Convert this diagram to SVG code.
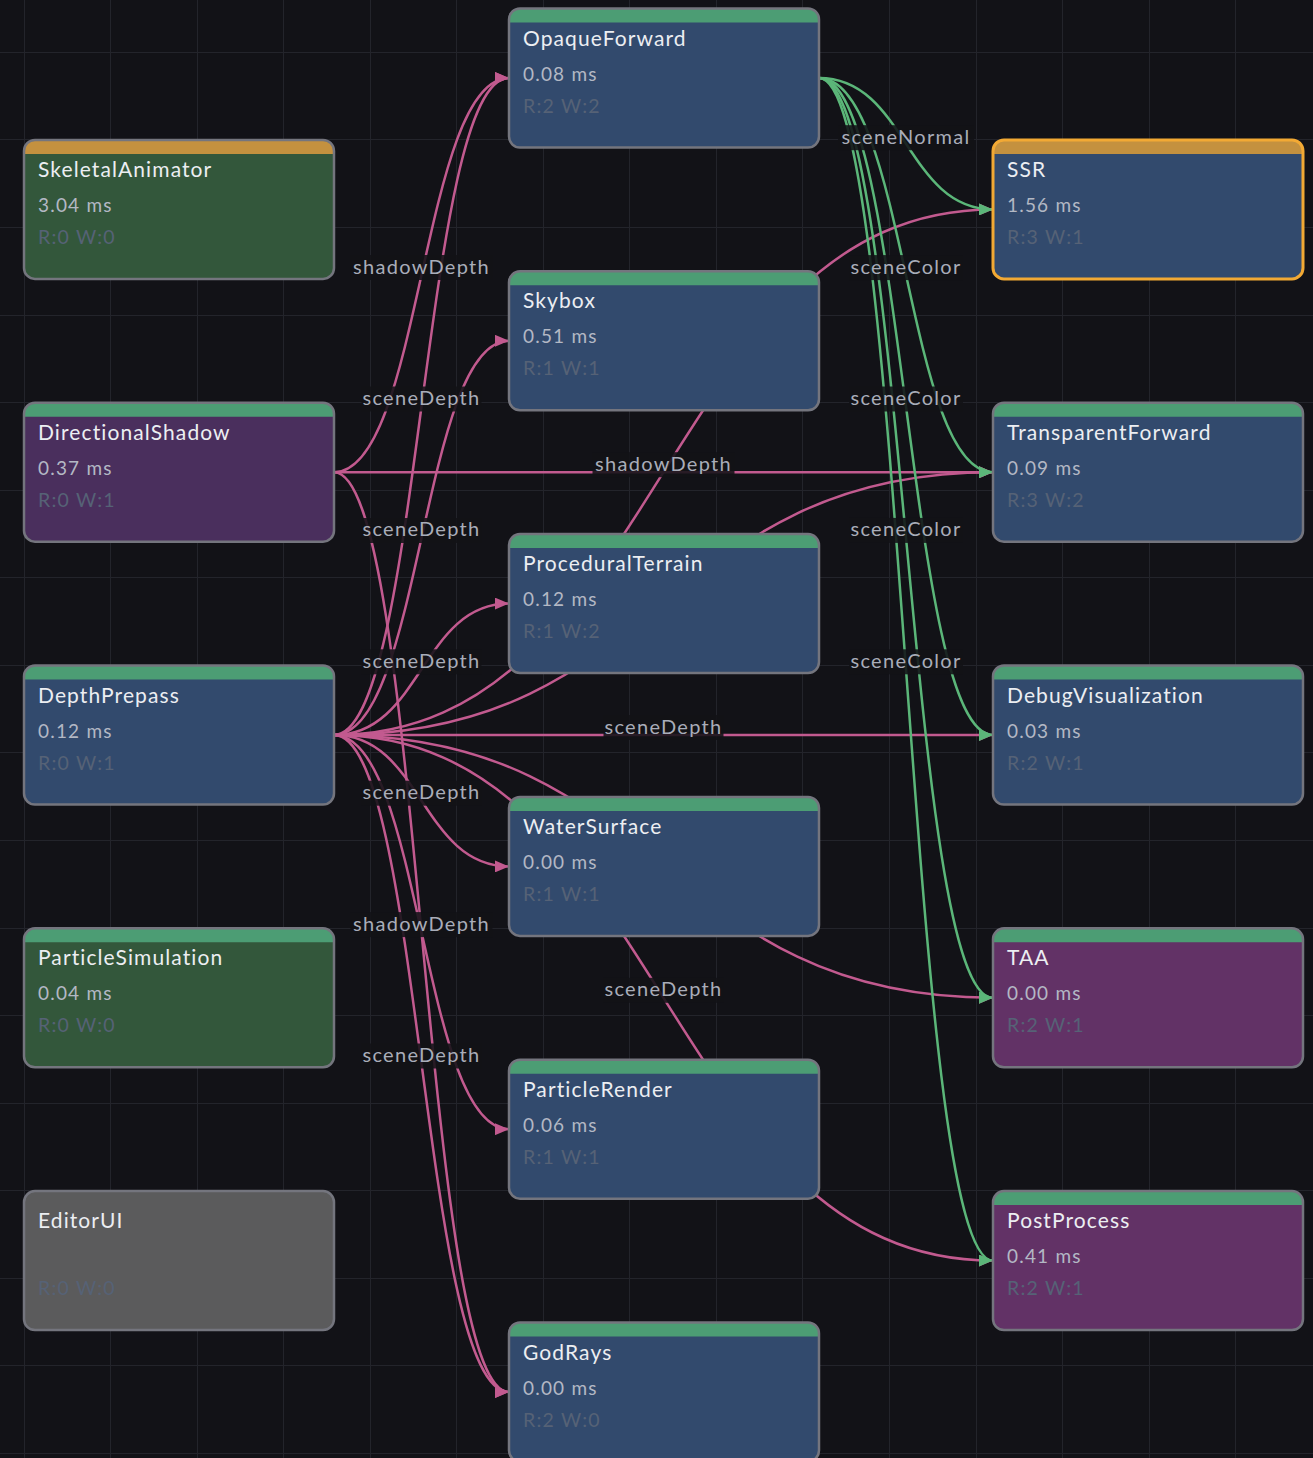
<svg xmlns="http://www.w3.org/2000/svg" width="1313" height="1458" viewBox="0 0 1313 1458">
<style>
.bg{fill:#121217}
.grid{stroke:#23242b;stroke-width:1;fill:none}
.e{fill:none;stroke-width:2.5}
.pk{stroke:#c25a8f}
.gr{stroke:#5bb679}
.lbl-bg{fill:#121217;fill-opacity:0.88}
.lbl{font-family:Lato,"Noto Sans",sans-serif;font-size:20px;letter-spacing:1.3px;fill:#a9adb9;text-anchor:middle}
.hdr-g{fill:#4c9d74}
.hdr-o{fill:#c4913f}
.b-blue{fill:#324a6d}
.b-green{fill:#33573b}
.b-purple{fill:#4a2f5d}
.b-mag{fill:#623266}
.b-gray{fill:#5b5b5c}
.border{fill:none;stroke:#74757e;stroke-width:2.5}
.border-sel{fill:none;stroke:#f2a934;stroke-width:3}
.title{font-family:Lato,"Noto Sans",sans-serif;font-size:21px;letter-spacing:1.1px;fill:#eceef2}
.ms{font-family:Lato,"Noto Sans",sans-serif;font-size:19px;letter-spacing:1.2px;fill:#b3b8c4}
.rw{font-family:Lato,"Noto Sans",sans-serif;font-size:19.5px;letter-spacing:1.2px;fill:#566276}
</style>
<defs>
<marker id="ap" markerUnits="userSpaceOnUse" markerWidth="15" markerHeight="12" refX="14" refY="6" orient="auto"><path d="M0,0 L14,6 L0,12 Z" fill="#c25a8f"/></marker>
<marker id="ag" markerUnits="userSpaceOnUse" markerWidth="15" markerHeight="12" refX="14" refY="6" orient="auto"><path d="M0,0 L14,6 L0,12 Z" fill="#5bb679"/></marker>
<path id="bodyPath" d="M0,14 H310 V128 A11,11 0 0 1 299,139 H11 A11,11 0 0 1 0,128 Z"/>
</defs>
<rect class="bg" x="0" y="0" width="1313" height="1458"/>
<path class="grid" d="M24.5,0V1458M110.5,0V1458M197.5,0V1458M283.5,0V1458M370.5,0V1458M456.5,0V1458M543.5,0V1458M629.5,0V1458M716.5,0V1458M802.5,0V1458M889.5,0V1458M976.5,0V1458M1062.5,0V1458M1149.5,0V1458M1235.5,0V1458M0,52.5H1313M0,139.5H1313M0,227.5H1313M0,315.5H1313M0,402.5H1313M0,490.5H1313M0,577.5H1313M0,665.5H1313M0,752.5H1313M0,840.5H1313M0,928.5H1313M0,1015.5H1313M0,1103.5H1313M0,1190.5H1313M0,1278.5H1313M0,1365.5H1313M0,1453.5H1313"/>

<g id="connectors">
<path class="e pk" marker-end="url(#ap)" d="M334,472.2 C421.5,472.2 421.5,78 509,78"/>
<path class="e pk" marker-end="url(#ap)" d="M334,472.2 L993,472.2"/>
<path class="e pk" marker-end="url(#ap)" d="M334,472.2 C421.5,472.2 421.5,1392 509,1392"/>
<path class="e pk" marker-end="url(#ap)" d="M334,735 C421.5,735 421.5,78 509,78"/>
<path class="e pk" marker-end="url(#ap)" d="M334,735 C421.5,735 421.5,340.8 509,340.8"/>
<path class="e pk" marker-end="url(#ap)" d="M334,735 C421.5,735 421.5,603.6 509,603.6"/>
<path class="e pk" marker-end="url(#ap)" d="M334,735 C421.5,735 421.5,866.4 509,866.4"/>
<path class="e pk" marker-end="url(#ap)" d="M334,735 C421.5,735 421.5,1129.2 509,1129.2"/>
<path class="e pk" marker-end="url(#ap)" d="M334,735 C421.5,735 421.5,1392 509,1392"/>
<path class="e pk" marker-end="url(#ap)" d="M334,735 C663.5,735 663.5,209.4 993,209.4"/>
<path class="e pk" marker-end="url(#ap)" d="M334,735 C663.5,735 663.5,472.2 993,472.2"/>
<path class="e pk" marker-end="url(#ap)" d="M334,735 L993,735"/>
<path class="e pk" marker-end="url(#ap)" d="M334,735 C663.5,735 663.5,997.8 993,997.8"/>
<path class="e pk" marker-end="url(#ap)" d="M334,735 C663.5,735 663.5,1260.6 993,1260.6"/>
<path class="e gr" marker-end="url(#ag)" d="M819,78 C906,78 906,209.4 993,209.4"/>
<path class="e gr" marker-end="url(#ag)" d="M819,78 C906,78 906,472.2 993,472.2"/>
<path class="e gr" marker-end="url(#ag)" d="M819,78 C906,78 906,735 993,735"/>
<path class="e gr" marker-end="url(#ag)" d="M819,78 C906,78 906,997.8 993,997.8"/>
<path class="e gr" marker-end="url(#ag)" d="M819,78 C906,78 906,1260.6 993,1260.6"/>

<g id="labels">
<rect class="lbl-bg" x="350.5" y="255" width="142" height="25"/><text class="lbl" x="421.5" y="273.6">shadowDepth</text>
<rect class="lbl-bg" x="361.5" y="386.5" width="120" height="25"/><text class="lbl" x="421.5" y="405">sceneDepth</text>
<rect class="lbl-bg" x="361.5" y="518" width="120" height="25"/><text class="lbl" x="421.5" y="536.4">sceneDepth</text>
<rect class="lbl-bg" x="361.5" y="649.3" width="120" height="25"/><text class="lbl" x="421.5" y="667.8">sceneDepth</text>
<rect class="lbl-bg" x="361.5" y="780.7" width="120" height="25"/><text class="lbl" x="421.5" y="799.2">sceneDepth</text>
<rect class="lbl-bg" x="350.5" y="912.1" width="142" height="25"/><text class="lbl" x="421.5" y="930.6">shadowDepth</text>
<rect class="lbl-bg" x="361.5" y="1043.5" width="120" height="25"/><text class="lbl" x="421.5" y="1062">sceneDepth</text>
<rect class="lbl-bg" x="592.5" y="452.2" width="142" height="25"/><text class="lbl" x="663.5" y="470.7">shadowDepth</text>
<rect class="lbl-bg" x="603.5" y="715" width="120" height="25"/><text class="lbl" x="663.5" y="733.5">sceneDepth</text>
<rect class="lbl-bg" x="603.5" y="977.8" width="120" height="25"/><text class="lbl" x="663.5" y="996.3">sceneDepth</text>
<rect class="lbl-bg" x="838" y="125.2" width="136" height="25"/><text class="lbl" x="906" y="143.7">sceneNormal</text>
<rect class="lbl-bg" x="849" y="255.1" width="114" height="25"/><text class="lbl" x="906" y="273.6">sceneColor</text>
<rect class="lbl-bg" x="849" y="386.5" width="114" height="25"/><text class="lbl" x="906" y="405">sceneColor</text>
<rect class="lbl-bg" x="849" y="517.9" width="114" height="25"/><text class="lbl" x="906" y="536.4">sceneColor</text>
<rect class="lbl-bg" x="849" y="649.3" width="114" height="25"/><text class="lbl" x="906" y="667.8">sceneColor</text>
</g>
</g>

<g id="n-SkeletalAnimator" transform="translate(24,139.9)">
<rect class="hdr-o" width="310" height="139" rx="11"/><use href="#bodyPath" class="b-green"/><rect class="border" width="310" height="139" rx="11"/>
<text class="title" x="14" y="37">SkeletalAnimator</text><text class="ms" x="14" y="72">3.04 ms</text><text class="rw" x="14" y="104">R:0 W:0</text>
</g>
<g id="n-DirectionalShadow" transform="translate(24,402.7)">
<rect class="hdr-g" width="310" height="139" rx="11"/><use href="#bodyPath" class="b-purple"/><rect class="border" width="310" height="139" rx="11"/>
<text class="title" x="14" y="37">DirectionalShadow</text><text class="ms" x="14" y="72">0.37 ms</text><text class="rw" x="14" y="104">R:0 W:1</text>
</g>
<g id="n-DepthPrepass" transform="translate(24,665.5)">
<rect class="hdr-g" width="310" height="139" rx="11"/><use href="#bodyPath" class="b-blue"/><rect class="border" width="310" height="139" rx="11"/>
<text class="title" x="14" y="37">DepthPrepass</text><text class="ms" x="14" y="72">0.12 ms</text><text class="rw" x="14" y="104">R:0 W:1</text>
</g>
<g id="n-ParticleSimulation" transform="translate(24,928.3)">
<rect class="hdr-g" width="310" height="139" rx="11"/><use href="#bodyPath" class="b-green"/><rect class="border" width="310" height="139" rx="11"/>
<text class="title" x="14" y="37">ParticleSimulation</text><text class="ms" x="14" y="72">0.04 ms</text><text class="rw" x="14" y="104">R:0 W:0</text>
</g>
<g id="n-EditorUI" transform="translate(24,1191.1)">
<rect class="b-gray" width="310" height="139" rx="11"/><rect class="border" width="310" height="139" rx="11"/>
<text class="title" x="14" y="37">EditorUI</text><text class="rw" x="14" y="104">R:0 W:0</text>
</g>

<g id="n-OpaqueForward" transform="translate(509,8.5)">
<rect class="hdr-g" width="310" height="139" rx="11"/><use href="#bodyPath" class="b-blue"/><rect class="border" width="310" height="139" rx="11"/>
<text class="title" x="14" y="37">OpaqueForward</text><text class="ms" x="14" y="72">0.08 ms</text><text class="rw" x="14" y="104">R:2 W:2</text>
</g>
<g id="n-Skybox" transform="translate(509,271.3)">
<rect class="hdr-g" width="310" height="139" rx="11"/><use href="#bodyPath" class="b-blue"/><rect class="border" width="310" height="139" rx="11"/>
<text class="title" x="14" y="37">Skybox</text><text class="ms" x="14" y="72">0.51 ms</text><text class="rw" x="14" y="104">R:1 W:1</text>
</g>
<g id="n-ProceduralTerrain" transform="translate(509,534.1)">
<rect class="hdr-g" width="310" height="139" rx="11"/><use href="#bodyPath" class="b-blue"/><rect class="border" width="310" height="139" rx="11"/>
<text class="title" x="14" y="37">ProceduralTerrain</text><text class="ms" x="14" y="72">0.12 ms</text><text class="rw" x="14" y="104">R:1 W:2</text>
</g>
<g id="n-WaterSurface" transform="translate(509,796.9)">
<rect class="hdr-g" width="310" height="139" rx="11"/><use href="#bodyPath" class="b-blue"/><rect class="border" width="310" height="139" rx="11"/>
<text class="title" x="14" y="37">WaterSurface</text><text class="ms" x="14" y="72">0.00 ms</text><text class="rw" x="14" y="104">R:1 W:1</text>
</g>
<g id="n-ParticleRender" transform="translate(509,1059.7)">
<rect class="hdr-g" width="310" height="139" rx="11"/><use href="#bodyPath" class="b-blue"/><rect class="border" width="310" height="139" rx="11"/>
<text class="title" x="14" y="37">ParticleRender</text><text class="ms" x="14" y="72">0.06 ms</text><text class="rw" x="14" y="104">R:1 W:1</text>
</g>
<g id="n-GodRays" transform="translate(509,1322.5)">
<rect class="hdr-g" width="310" height="139" rx="11"/><use href="#bodyPath" class="b-blue"/><rect class="border" width="310" height="139" rx="11"/>
<text class="title" x="14" y="37">GodRays</text><text class="ms" x="14" y="72">0.00 ms</text><text class="rw" x="14" y="104">R:2 W:0</text>
</g>

<g id="n-SSR" transform="translate(993,139.9)">
<rect class="hdr-o" width="310" height="139" rx="11"/><use href="#bodyPath" class="b-blue"/><rect class="border-sel" width="310" height="139" rx="11"/>
<text class="title" x="14" y="37">SSR</text><text class="ms" x="14" y="72">1.56 ms</text><text class="rw" x="14" y="104">R:3 W:1</text>
</g>
<g id="n-TransparentForward" transform="translate(993,402.7)">
<rect class="hdr-g" width="310" height="139" rx="11"/><use href="#bodyPath" class="b-blue"/><rect class="border" width="310" height="139" rx="11"/>
<text class="title" x="14" y="37">TransparentForward</text><text class="ms" x="14" y="72">0.09 ms</text><text class="rw" x="14" y="104">R:3 W:2</text>
</g>
<g id="n-DebugVisualization" transform="translate(993,665.5)">
<rect class="hdr-g" width="310" height="139" rx="11"/><use href="#bodyPath" class="b-blue"/><rect class="border" width="310" height="139" rx="11"/>
<text class="title" x="14" y="37">DebugVisualization</text><text class="ms" x="14" y="72">0.03 ms</text><text class="rw" x="14" y="104">R:2 W:1</text>
</g>
<g id="n-TAA" transform="translate(993,928.3)">
<rect class="hdr-g" width="310" height="139" rx="11"/><use href="#bodyPath" class="b-mag"/><rect class="border" width="310" height="139" rx="11"/>
<text class="title" x="14" y="37">TAA</text><text class="ms" x="14" y="72">0.00 ms</text><text class="rw" x="14" y="104">R:2 W:1</text>
</g>
<g id="n-PostProcess" transform="translate(993,1191.1)">
<rect class="hdr-g" width="310" height="139" rx="11"/><use href="#bodyPath" class="b-mag"/><rect class="border" width="310" height="139" rx="11"/>
<text class="title" x="14" y="37">PostProcess</text><text class="ms" x="14" y="72">0.41 ms</text><text class="rw" x="14" y="104">R:2 W:1</text>
</g>
</svg>
